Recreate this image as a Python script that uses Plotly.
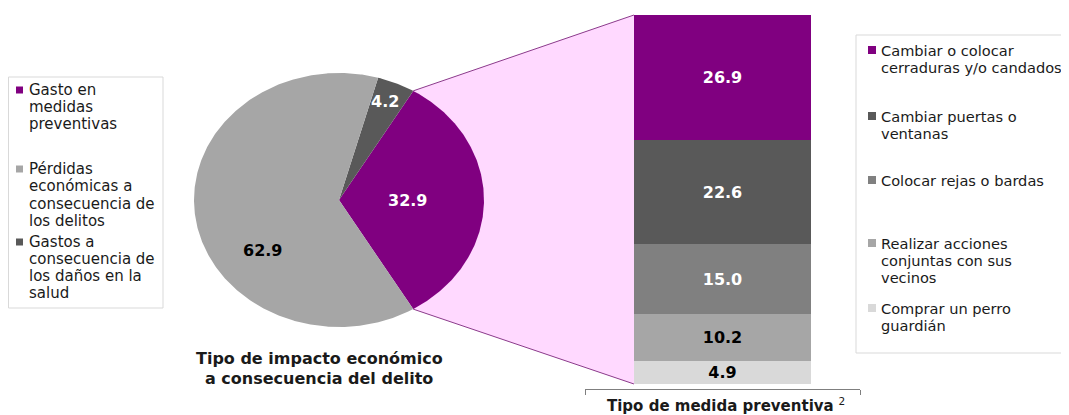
import math
import plotly.graph_objects as go

# ---------------- data ----------------
pie_labels = ["Gasto en medidas preventivas",
              "Gastos a consecuencia de los daños en la salud",
              "Pérdidas económicas a consecuencia de los delitos"]
pie_values = [32.9, 4.2, 62.9]
pie_colors = ["#800080", "#595959", "#A6A6A6"]
pie_text_colors = ["white", "white", "black"]

bar_labels = ["Comprar un perro guardián",
              "Realizar acciones conjuntas con sus vecinos",
              "Colocar rejas o bardas",
              "Cambiar puertas o ventanas",
              "Cambiar o colocar cerraduras y/o candados"]
bar_values = [4.9, 10.2, 15.0, 22.6, 26.9]
bar_colors = ["#D9D9D9", "#A6A6A6", "#808080", "#595959", "#800080"]
bar_text_colors = ["black", "black", "white", "white", "white"]

left_legend_lines = [["Gasto en", "medidas", "preventivas"],
                     ["Pérdidas", "económicas a", "consecuencia de", "los delitos"],
                     ["Gastos a", "consecuencia de", "los daños en la", "salud"]]
left_legend_colors = ["#800080", "#A6A6A6", "#595959"]

right_legend_lines = [["Cambiar o colocar", "cerraduras y/o candados"],
                      ["Cambiar puertas o", "ventanas"],
                      ["Colocar rejas o bardas"],
                      ["Realizar acciones", "conjuntas con sus", "vecinos"],
                      ["Comprar un perro", "guardián"]]
right_legend_colors = ["#800080", "#595959", "#808080", "#A6A6A6", "#D9D9D9"]

pie_title = ["Tipo de impacto económico", "a consecuencia del delito"]
bar_title = "Tipo de medida preventiva"

# ---------------- layout constants (screen pixel coordinates) ----------------
SW, SH = 1069, 415          # browser window
OFF = 8                     # default page body margin
W, H = SW - OFF, SH - OFF   # figure size
FONT = "DejaVu Sans, Verdana, sans-serif"
cx, cy, rx, ry = 339, 200, 145, 127
# label placement per slice: (angle deg, radius fraction)
pie_label_pos = [(0, 0.47), (68, 0.84), (217, 0.66)]

bar_dom_x = (585, 860)     # screen px
bar_dom_y = (389, 15)      # screen px (bottom, top)
bar_width = 0.644
total = sum(bar_values)
ymin = -total * 0.0136

left_line_y = [[90, 107, 124], [169, 186, 204, 221], [242, 259, 276, 293]]
right_line_y = [[50, 67], [116, 133], [180], [243, 260, 277], [308, 325]]

fig = go.Figure()

def ell(a_deg):
    a = math.radians(a_deg)
    return cx + rx * math.cos(a), cy - ry * math.sin(a)

# slice angles (purple centred on east, counter-clockwise)
tot_pie = sum(pie_values)
angles = []
start = -pie_values[0] / tot_pie * 360 / 2
for v in pie_values:
    span = v / tot_pie * 360
    angles.append((start, start + span))
    start += span

# bar pixel geometry from its axis
def bar_py(v):
    b, t = bar_dom_y
    return b - (v - ymin) / (total - ymin) * (b - t)
bar_left_px = bar_dom_x[0] + (0.5 - bar_width / 2) * (bar_dom_x[1] - bar_dom_x[0])

# connector (pink) region
p_top = ell(angles[0][1])
p_bot = ell(angles[0][0])
fig.add_trace(go.Scatter(
    x=[p_top[0], bar_left_px, bar_left_px, p_bot[0], p_top[0]],
    y=[p_top[1], bar_py(total), bar_py(0), p_bot[1], p_top[1]],
    fill="toself", fillcolor="#FFD9FF", line=dict(width=0), mode="lines",
    hoverinfo="skip", showlegend=False, xaxis="x", yaxis="y"))
for p, yv in [(p_top, total), (p_bot, 0)]:
    fig.add_trace(go.Scatter(x=[p[0], bar_left_px], y=[p[1], bar_py(yv)],
                             mode="lines", line=dict(color="#8B3A8B", width=1),
                             hoverinfo="skip", showlegend=False))

# pie slices
for (a0, a1), col, lab, v in zip(angles, pie_colors, pie_labels, pie_values):
    n = max(4, int(abs(a1 - a0) * 2))
    xs, ys = [cx], [cy]
    for i in range(n + 1):
        px, py = ell(a0 + (a1 - a0) * i / n)
        xs.append(px); ys.append(py)
    xs.append(cx); ys.append(cy)
    fig.add_trace(go.Scatter(x=xs, y=ys, fill="toself", fillcolor=col,
                             line=dict(width=0), mode="lines", name=lab,
                             hoverinfo="name", showlegend=False))

# pie value labels
for (ang, rf), v, tc in zip(pie_label_pos, pie_values, pie_text_colors):
    a = math.radians(ang)
    fig.add_annotation(x=cx + rf * rx * math.cos(a), y=cy - rf * ry * math.sin(a),
                       text=f"<b>{v:.1f}</b>", showarrow=False, xref="x", yref="y",
                       font=dict(family=FONT, size=16, color=tc))

# stacked bar
for lab, v, col, tc in zip(bar_labels, bar_values, bar_colors, bar_text_colors):
    fig.add_trace(go.Bar(x=[0], y=[v], width=bar_width, name=lab,
                         marker=dict(color=col, line=dict(width=0)),
                         text=[f"<b>{v:.1f}</b>"], textposition="inside", insidetextanchor="middle",
                         textfont=dict(family=FONT, size=16, color=tc), textangle=0,
                         xaxis="x2", yaxis="y2", showlegend=False))

# legends
def draw_legend(lines_list, colors, ys, sw_x, tx_x, sw, fsize):
    for lines, col, yl in zip(lines_list, colors, ys):
        fig.add_shape(type="rect", xref="x", yref="y",
                      x0=sw_x - sw / 2, x1=sw_x + sw / 2, y0=yl[0] - sw / 2, y1=yl[0] + sw / 2,
                      fillcolor=col, line=dict(width=0))
        for t, yy in zip(lines, yl):
            fig.add_annotation(x=tx_x, y=yy, text=t, showarrow=False, xref="x", yref="y",
                               xanchor="left", yanchor="middle",
                               font=dict(family=FONT, size=fsize, color="#1a1a1a"))

fig.add_shape(type="rect", xref="x", yref="y", x0=8.5, x1=163, y0=77, y1=308,
              line=dict(color="#D9D9D9", width=1), fillcolor="rgba(0,0,0,0)")
fig.add_shape(type="rect", xref="x", yref="y", x0=856, x1=1080, y0=35, y1=353,
              line=dict(color="#D9D9D9", width=1), fillcolor="rgba(0,0,0,0)")
draw_legend(left_legend_lines, left_legend_colors, left_line_y, 19.5, 27, 7, 15)
draw_legend(right_legend_lines, right_legend_colors, right_line_y, 872, 879, 8, 14.6)

# titles
for t, yy in zip(pie_title, [358, 378]):
    fig.add_annotation(x=319, y=yy, text=f"<b>{t}</b>", showarrow=False, xref="x", yref="y",
                       font=dict(family=FONT, size=16, color="#1a1a1a"))
fig.add_annotation(x=605, y=405, text=f"<b>{bar_title}</b> <sup>2</sup>", showarrow=False,
                   xref="x", yref="y", xanchor="left", yanchor="middle",
                   font=dict(family=FONT, size=15, color="#1a1a1a"))

fig.update_layout(
    width=W, height=H, margin=dict(l=0, r=0, t=0, b=0),
    paper_bgcolor="white", plot_bgcolor="rgba(0,0,0,0)",
    barmode="stack", bargap=0, showlegend=False,
    uniformtext=dict(minsize=16, mode="show"),
    xaxis=dict(range=[OFF, SW], domain=[0, 1], visible=False, fixedrange=True),
    yaxis=dict(range=[SH, OFF], domain=[0, 1], visible=False, fixedrange=True),
    xaxis2=dict(domain=[(bar_dom_x[0] - OFF) / W, (bar_dom_x[1] - OFF) / W], range=[-0.5, 0.5],
                showline=True, linecolor="#7F7F7F", linewidth=1, ticks="outside",
                tickvals=[-0.5, 0.5], ticklen=5, tickcolor="#7F7F7F",
                showticklabels=False, showgrid=False, zeroline=False, anchor="y2"),
    yaxis2=dict(domain=[1 - (bar_dom_y[0] - OFF) / H, 1 - (bar_dom_y[1] - OFF) / H],
                range=[ymin, total], visible=False, anchor="x2"),
)
fig.write_html("out.html")
